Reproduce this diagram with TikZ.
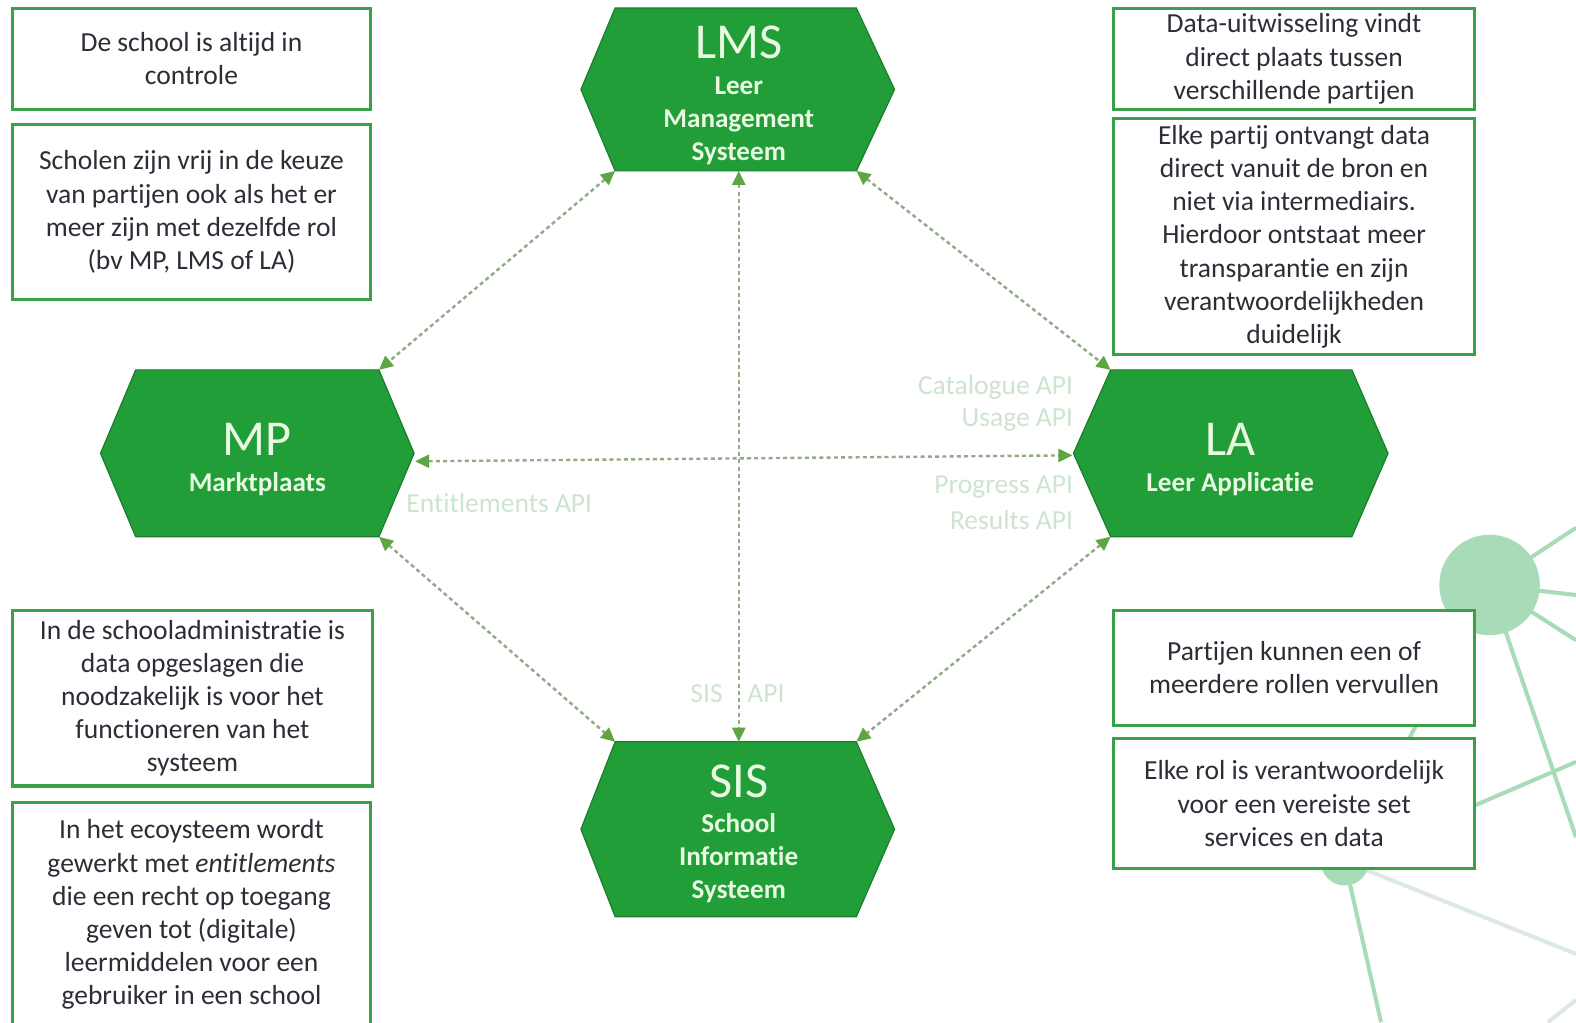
\documentclass[tikz,border=0pt]{standalone}
\usepackage{fontspec}
\setmainfont{Carlito}[Ligatures=NoCommon]
\usetikzlibrary{arrows.meta}
\definecolor{hexgreen}{RGB}{33,158,56}
\definecolor{hextext}{RGB}{232,250,226}
\definecolor{boxborder}{RGB}{58,160,74}
\definecolor{boxtext}{RGB}{45,45,55}
\definecolor{apitext}{RGB}{205,228,208}
\definecolor{dashline}{RGB}{145,170,135}
\definecolor{arrowtip}{RGB}{95,165,65}
\definecolor{deco}{RGB}{168,219,183}
\definecolor{decogray}{RGB}{222,232,226}
\tikzset{
  infobox/.style={draw=boxborder, line width=1.5pt, fill=white, text=boxtext, align=center,
    inner sep=0pt, font=\fontsize{13.7}{16.5}\selectfont},
  hexfill/.style={fill=hexgreen, draw=hexgreen!80!black, line width=0.6pt},
  hextitle/.style={text=hextext, inner sep=0pt, font=\fontsize{25}{30}\selectfont},
  hexsub/.style={text=hextext, inner sep=0pt, align=center, font=\bfseries\fontsize{13.5}{16.5}\selectfont},
  api/.style={text=apitext, inner sep=0pt, font=\fontsize{13.7}{16.5}\selectfont},
  link/.style={draw=dashline, line width=1.2pt, dash pattern=on 2pt off 1.6pt,
    {Triangle[length=7pt,width=6.5pt,color=arrowtip]}-{Triangle[length=7pt,width=6.5pt,color=arrowtip]}},
  decoline/.style={draw=deco, line width=2pt},
}
\begin{document}
\begin{tikzpicture}[x=0.5pt,y=-0.5pt]
\useasboundingbox (0,0) rectangle (1568,1017);
\clip (0,0) rectangle (1568,1017);
\fill[white] (0,0) rectangle (1568,1017);

% decorative network (bottom right)
\coordinate (bigc) at (1482,582);
\coordinate (smallc) at (1338,857);
\coordinate (d1) at (1568,525);
\coordinate (d2) at (1568,592);
\coordinate (d3) at (1568,637);
\coordinate (d4) at (1568,833);
\coordinate (d5) at (1568,758);
\coordinate (d6) at (1374,1017);
\coordinate (d7) at (1568,949);
\coordinate (d8) at (1568,995);
\coordinate (d9) at (1540,1017);
\draw[decoline] (bigc) -- (d1);
\draw[decoline] (bigc) -- (d2);
\draw[decoline] (bigc) -- (d3);
\draw[decoline] (bigc) -- (d4);
\draw[decoline] (bigc) -- (smallc);
\draw[decoline] (smallc) -- (d5);
\draw[decoline] (smallc) -- (d6);
\draw[draw=decogray, line width=2pt] (smallc) -- (d7);
\draw[draw=decogray, line width=2pt] (d8) -- (d9);
\fill[deco] (bigc) circle[radius=50];
\fill[deco] (smallc) circle[radius=24];

% info boxes
\node[infobox, minimum width=178.5pt, minimum height=50.5pt] (b1) at (190.5,58.5)
  {De school is altijd in\\controle};
\node[infobox, minimum width=178.5pt, minimum height=87pt] (b2) at (190.5,211)
  {Scholen zijn vrij in de keuze\\van partijen ook als het er\\meer zijn met dezelfde rol\\(bv MP, LMS of LA)};
\node[infobox, minimum width=179.5pt, minimum height=87.5pt] (b3) at (191.5,694.5)
  {In de schooladministratie is\\data opgeslagen die\\noodzakelijk is voor het\\functioneren van het\\systeem};
\node[infobox, minimum width=178.5pt, minimum height=112pt] (b4) at (190.5,910)
  {In het ecoysteem wordt\\gewerkt met \textit{entitlements}\\die een recht op toegang\\geven tot (digitale)\\leermiddelen voor een\\gebruiker in een school};
\node[infobox, minimum width=179.5pt, minimum height=50pt] (b5) at (1287.5,58.5)
  {Data-uitwisseling vindt\\direct plaats tussen\\verschillende partijen};
\node[infobox, minimum width=179.5pt, minimum height=117.5pt] (b6) at (1287.5,235.5)
  {Elke partij ontvangt data\\direct vanuit de bron en\\niet via intermediairs.\\Hierdoor ontstaat meer\\transparantie en zijn\\verantwoordelijkheden\\duidelijk};
\node[infobox, minimum width=179.5pt, minimum height=57pt] (b7) at (1287.5,664.5)
  {Partijen kunnen een of\\meerdere rollen vervullen};
\node[infobox, minimum width=179.5pt, minimum height=65pt] (b8) at (1287.5,799.5)
  {Elke rol is verantwoordelijk\\voor een vereiste set\\services en data};

% hexagon corners
\coordinate (lmsW) at (578,89);  \coordinate (lmsNW) at (612,8);   \coordinate (lmsNE) at (852,8);
\coordinate (lmsE) at (890,89);  \coordinate (lmsSE) at (852,170); \coordinate (lmsSW) at (612,170);
\coordinate (lmsS) at (735,170);
\coordinate (mpW) at (100,451);  \coordinate (mpNW) at (135,368);  \coordinate (mpNE) at (377,368);
\coordinate (mpE) at (412,451);  \coordinate (mpSE) at (377,534);  \coordinate (mpSW) at (135,534);
\coordinate (laW) at (1068,451); \coordinate (laNW) at (1105,368); \coordinate (laNE) at (1345,368);
\coordinate (laE) at (1381,451); \coordinate (laSE) at (1345,534); \coordinate (laSW) at (1105,534);
\coordinate (sisW) at (578,825); \coordinate (sisNW) at (612,738); \coordinate (sisNE) at (852,738);
\coordinate (sisE) at (890,825); \coordinate (sisSE) at (852,912); \coordinate (sisSW) at (612,912);
\coordinate (sisN) at (735,738);

\path[hexfill] (lmsW) -- (lmsNW) -- (lmsNE) -- (lmsE) -- (lmsSE) -- (lmsSW) -- cycle;
\path[hexfill] (mpW) -- (mpNW) -- (mpNE) -- (mpE) -- (mpSE) -- (mpSW) -- cycle;
\path[hexfill] (laW) -- (laNW) -- (laNE) -- (laE) -- (laSE) -- (laSW) -- cycle;
\path[hexfill] (sisW) -- (sisNW) -- (sisNE) -- (sisE) -- (sisSE) -- (sisSW) -- cycle;

% hexagon texts
\node[hextitle] (lmsT) at (735,42) {LMS};
\node[hexsub] (lmsSub) at (735,120) {Leer\\Management\\Systeem};
\node[hextitle] (mpT) at (256,437) {MP};
\node[hexsub] (mpSub) at (256,482) {Marktplaats};
\node[hextitle] (laT) at (1224,437) {LA};
\node[hexsub] (laSub) at (1224,482) {Leer Applicatie};
\node[hextitle] (sisT) at (735,777) {SIS};
\node[hexsub] (sisSub) at (735,854) {School\\Informatie\\Systeem};

% API labels
\node[api, anchor=east] (cat) at (1068,385) {Catalogue API};
\node[api, anchor=east] (usage) at (1068,418) {Usage API};
\node[api, anchor=east] (prog) at (1068,485) {Progress API};
\node[api, anchor=east] (res) at (1068,517) {Results API};
\node[api, anchor=west] (ent) at (404,500) {Entitlements API};
\node[api] (sisL) at (703,690) {SIS};
\node[api] (apiL) at (762,690) {API};

% connectors
\coordinate (mpEa) at (413,459);
\coordinate (laWa) at (1067,453);
\draw[link] (lmsSW) -- (mpNE);
\draw[link] (lmsSE) -- (laNW);
\draw[link] (lmsS) -- (sisN);
\draw[link] (mpEa) -- (laWa);
\draw[link] (mpSE) -- (sisNW);
\draw[link] (laSW) -- (sisNE);
\end{tikzpicture}
\end{document}
